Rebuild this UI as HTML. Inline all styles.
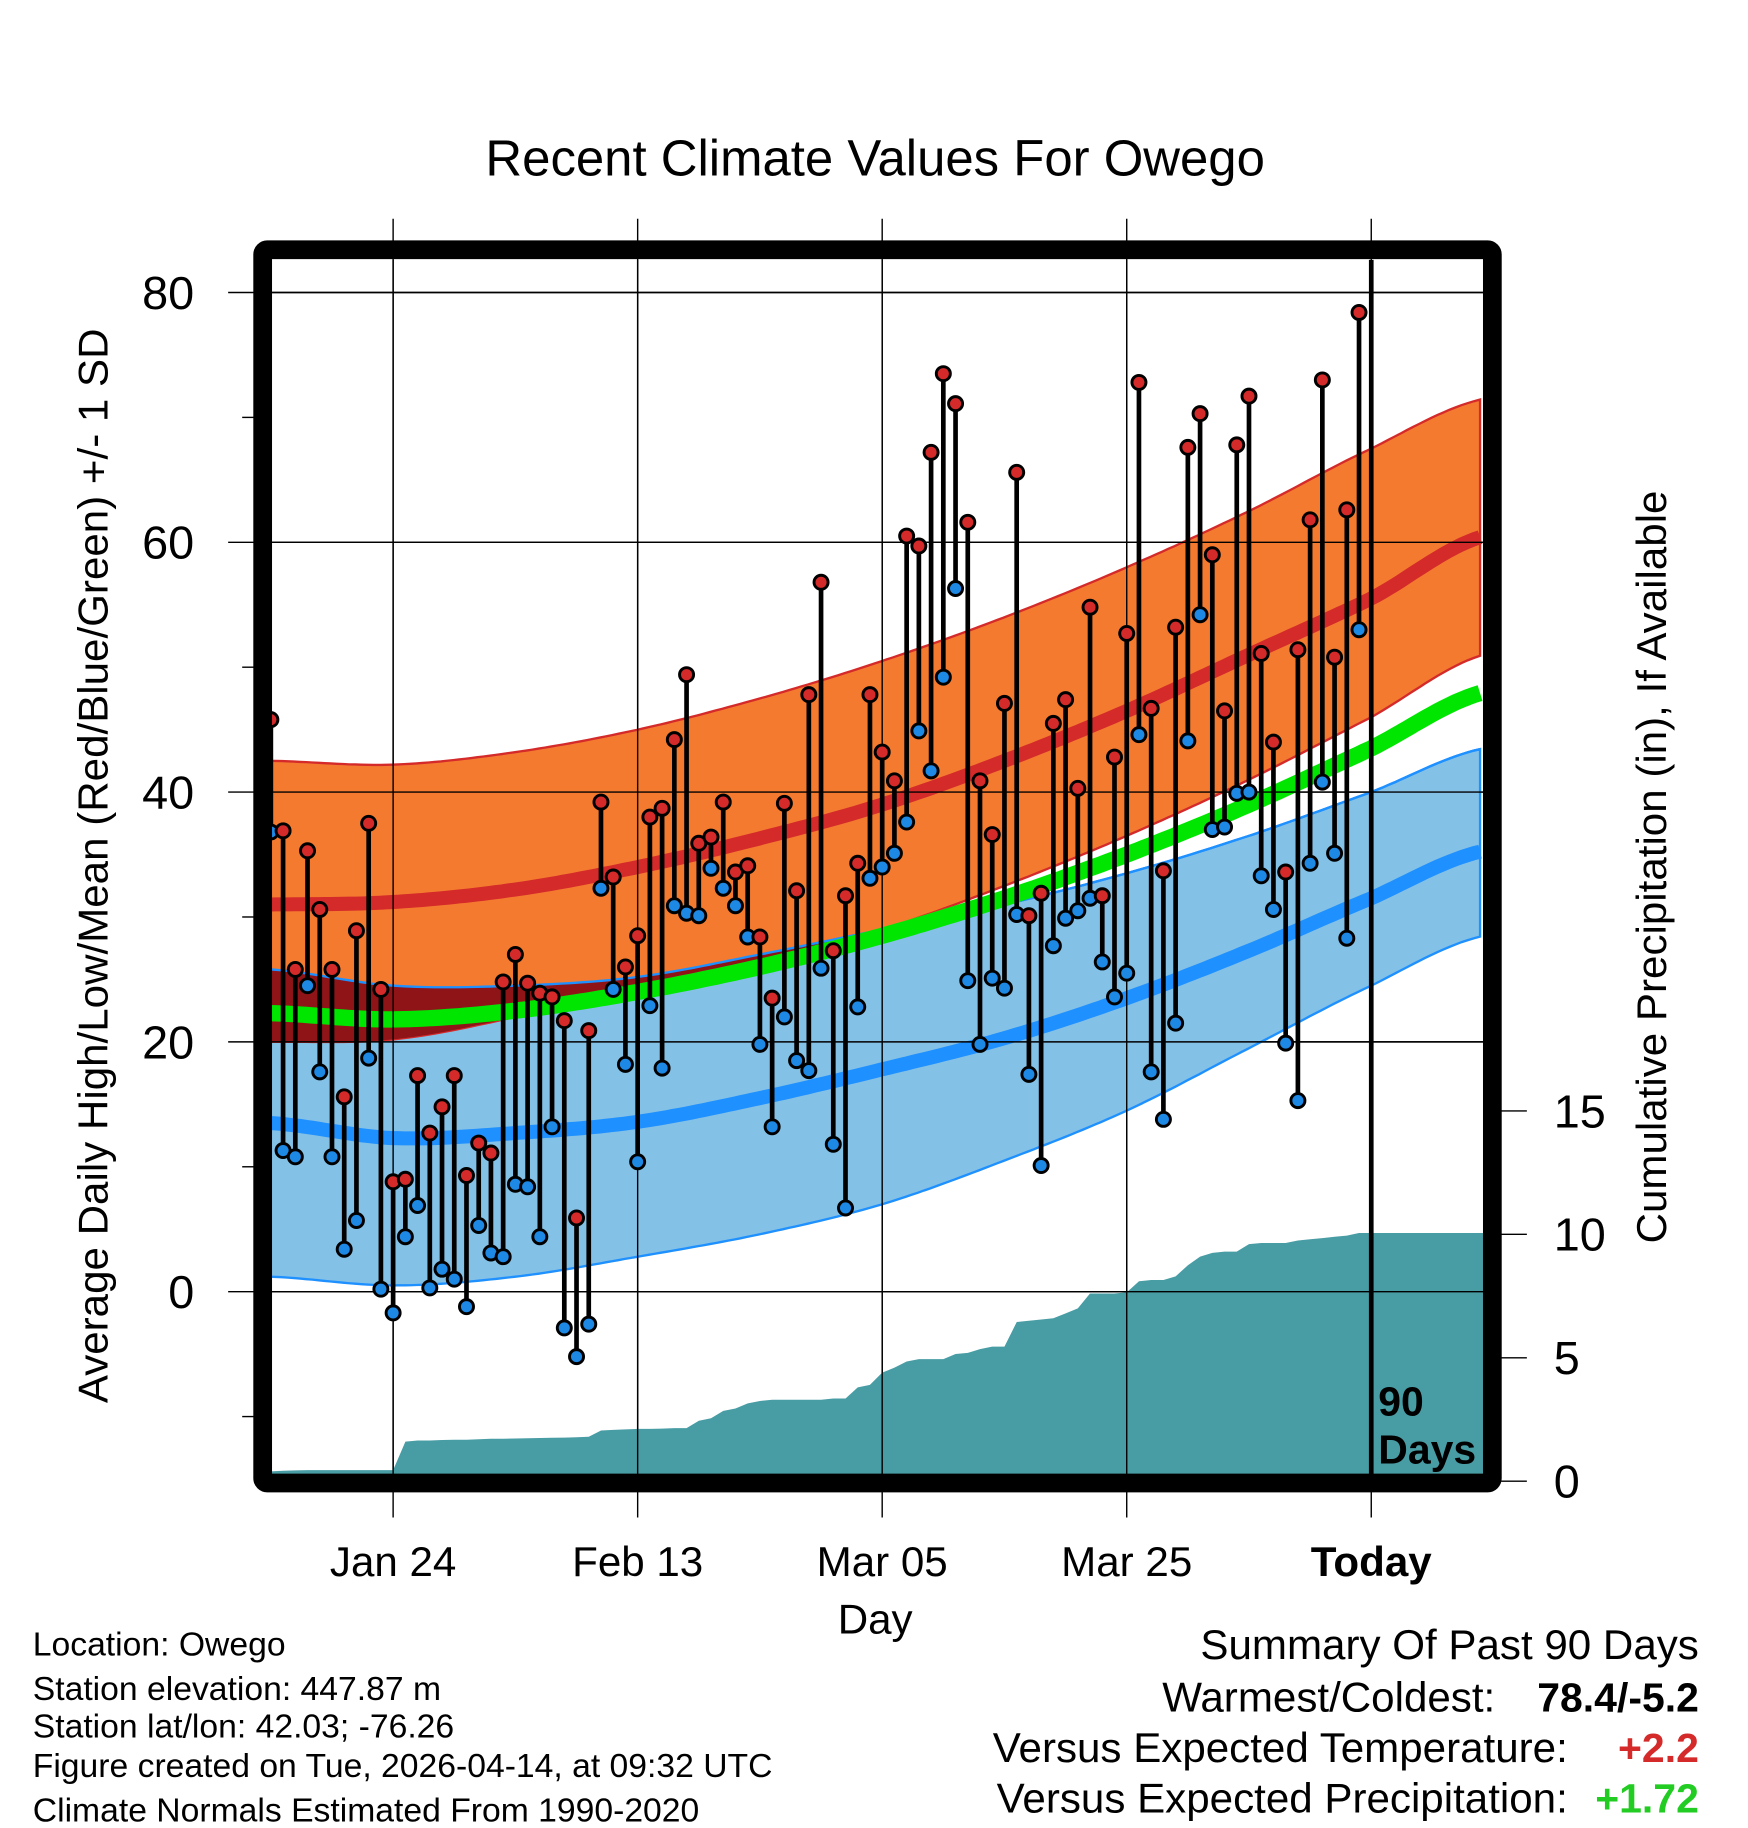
<!DOCTYPE html>
<html><head><meta charset="utf-8"><title>Recent Climate Values For Owego</title>
<style>
html,body{margin:0;padding:0;background:#fff;}
svg{display:block;font-family:"Liberation Sans",Arial,sans-serif;}
</style></head>
<body>
<svg id="chart" width="1748" height="1828" viewBox="0 0 1494 1562.4" preserveAspectRatio="none" xmlns="http://www.w3.org/2000/svg">
<rect x="0" y="0" width="1494" height="1563" fill="#fff"/>
<text x="748" y="150" font-size="43.5" text-anchor="middle">Recent Climate Values For Owego</text>
<g id="plot"></g>
</svg>
<script>
// ---- data ----
const highs = [45.8,36.9,25.8,35.3,30.6,25.8,15.6,28.9,37.5,24.2,8.8,9.0,17.3,12.7,14.8,17.3,9.3,11.9,11.1,24.8,
27.0,24.7,23.9,23.6,21.7,5.9,20.9,39.2,33.2,26.0,28.5,38.0,38.7,44.2,49.4,35.9,36.4,39.2,33.6,34.1,
28.4,23.5,39.1,32.1,47.8,56.8,27.3,31.7,34.3,47.8,43.2,40.9,60.5,59.7,67.2,73.5,71.1,61.6,40.9,36.6,
47.1,65.6,30.1,31.9,45.5,47.4,40.3,54.8,31.7,42.8,52.7,72.8,46.7,33.7,53.2,67.6,70.3,59.0,46.5,67.8,
71.7,51.1,44.0,33.6,51.4,61.8,73.0,50.8,62.6,78.4];
const lows = [36.8,11.3,10.8,24.5,17.6,10.8,3.4,5.7,18.7,0.2,-1.7,4.4,6.9,0.3,1.8,1.0,-1.2,5.3,3.1,2.8,
8.6,8.4,4.4,13.2,-2.9,-5.2,-2.6,32.3,24.2,18.2,10.4,22.9,17.9,30.9,30.3,30.1,33.9,32.3,30.9,28.4,
19.8,13.2,22.0,18.5,17.7,25.9,11.8,6.7,22.8,33.1,34.0,35.1,37.6,44.9,41.7,49.2,56.3,24.9,19.8,25.1,
24.3,30.2,17.4,10.1,27.7,29.9,30.5,31.5,26.4,23.6,25.5,44.6,17.6,13.8,21.5,44.1,54.2,37.0,37.2,39.9,
40.0,33.3,30.6,19.9,15.3,34.3,40.8,35.1,28.3,53.0];
const precip = [0.4,0.42,0.44,0.45,0.45,0.45,0.45,0.45,0.45,0.45,0.45,1.6,1.65,1.65,1.67,1.68,1.68,1.7,1.72,1.72,
1.73,1.74,1.75,1.76,1.77,1.78,1.8,2.05,2.08,2.1,2.12,2.12,2.13,2.15,2.15,2.45,2.55,2.85,2.95,3.15,
3.25,3.3,3.3,3.3,3.3,3.3,3.35,3.35,3.8,3.9,4.4,4.6,4.85,4.95,4.95,4.95,5.15,5.2,5.35,5.45,
5.45,6.45,6.5,6.55,6.6,6.8,7.0,7.6,7.6,7.6,7.65,8.1,8.15,8.15,8.3,8.75,9.1,9.25,9.3,9.3,
9.6,9.65,9.65,9.65,9.75,9.8,9.85,9.9,9.95,10.05];
const normDays = [-90,-80,-70,-60,-50,-40,-30,-20,-10,0,9.2];
const hiMean  = [31,31.2,32.2,34,36.3,39,42.5,46.5,51,55.5,60.5];
const hiUpper = [42.5,42.2,43.2,45,47.5,50.5,54,58,62.5,67.5,71.5];
const hiLower = [20,20.2,22,24.5,26.5,29,32.5,36.5,41,46,51];
const loMean  = [13.5,12.3,12.7,13.6,15.5,17.8,20.3,23.5,27.3,31.5,35.3];
const loUpper = [25.8,24.5,24.5,25.2,27,29,31,33.5,36.5,40,43.5];
const loLower = [1.2,0.5,1.2,2.8,4.6,7,10.5,14.5,19.5,24.5,28.5];
const avgMean = [22.3,21.8,22.5,24,26,28.5,31.5,35,39,43.5,48];
const yTicks = [0,20,40,60,80];
const yMinor = [-10,10,30,50,70];
const pTicks = [0,5,10,15];
const xLabels = ["Jan 24","Feb 13","Mar 05","Mar 25","Today"];
const xLabelDays = [-80,-60,-40,-20,0];

// ---- scales ----
const NS="http://www.w3.org/2000/svg";
const X0=232, X1=1268, Y0=222, Y1=1260;
const xd = d => 1172 + d*10.45;
const xi = i => xd(i-90);
const yt = v => 1104 - v*10.675;
const yp = v => 1266 - v*21.1;
const g = document.getElementById('plot');
function el(tag, attrs, parent){const e=document.createElementNS(NS,tag);for(const k in attrs)e.setAttribute(k,attrs[k]);(parent||g).appendChild(e);return e;}
function interp(arr, d){
  for(let k=0;k<normDays.length-1;k++){
    if(d<=normDays[k+1]||k===normDays.length-2){
      const a=normDays[k],b=normDays[k+1];
      const p0=arr[Math.max(k-1,0)],p1=arr[k],p2=arr[k+1],p3=arr[Math.min(k+2,arr.length-1)];
      const t=(d-a)/(b-a);
      return 0.5*((2*p1)+(-p0+p2)*t+(2*p0-5*p1+4*p2-p3)*t*t+(-p0+3*p1-3*p2+p3)*t*t*t);
    }
  }
}
const samples=[];for(let d=-90.1; d<=9.21; d+=0.5) samples.push(d);
function linePts(arr){return samples.map(d=>xd(d).toFixed(1)+','+yt(interp(arr,d)).toFixed(1));}
function bandPath(up,lo){const a=linePts(up),b=linePts(lo).reverse();return 'M'+a.join('L')+'L'+b.join('L')+'Z';}

const defs=el('defs',{});
const cp=el('clipPath',{id:'clip'},defs);
el('rect',{x:X0,y:Y0,width:X1-X0,height:Y1-Y0},cp);

// ---- gridlines ----
yTicks.forEach(v=>{
  const l=el('line',{x1:195,x2:1283,y1:yt(v),y2:yt(v),stroke:'#000','stroke-width':1.2});
  
  
  const t=el('text',{x:166,y:yt(v)+14,'font-size':40,'text-anchor':'end'});
  t.textContent=v;
  
  
});
yMinor.forEach(v=>{
  const l=el('line',{x1:207,x2:217,y1:yt(v),y2:yt(v),stroke:'#000','stroke-width':1.2});
  
  
});
pTicks.forEach(v=>{
  const l=el('line',{x1:1283,x2:1305,y1:yp(v),y2:yp(v),stroke:'#000','stroke-width':1.2});
  
  
  const t=el('text',{x:1328,y:yp(v)+14,'font-size':40});
  t.textContent=v;
  
  
});
xLabelDays.forEach((d,k)=>{
  const l=el('line',{x1:xd(d),x2:xd(d),y1:187,y2:1297,stroke:'#000','stroke-width':1.2});
  
  
  const t=el('text',{x:xd(d),y:1347,'font-size':36,'text-anchor':'middle','font-weight':d===0?'bold':'normal'});
  t.textContent=xLabels[k];
  
  
});

// ---- plot content ----
const pc=el('g',{'clip-path':'url(#clip)'});


(function(){
  let d='M'+xi(0)+','+yp(0);
  precip.forEach((v,i)=>{d+='L'+xi(i).toFixed(1)+','+yp(v).toFixed(1);});
  d+='L'+X1+','+yp(precip[precip.length-1]).toFixed(1)+'L'+X1+','+yp(0)+'Z';
  const p=el('path',{d:d,fill:'#489ca4'},pc);
  
  
})();
let p=el('path',{d:bandPath(loUpper,loLower),fill:'#84c1e6',stroke:'#1e90ff','stroke-width':2},pc);


p=el('path',{d:bandPath(hiUpper,hiLower),fill:'#f47a30',stroke:'#d42a2a','stroke-width':2},pc);


(function(){
  const up=[],lo=[];
  samples.forEach(d=>{const a=interp(hiLower,d),b=interp(loUpper,d);if(a<b){up.push(xd(d).toFixed(1)+','+yt(b).toFixed(1));lo.push(xd(d).toFixed(1)+','+yt(a).toFixed(1));}});
  if(up.length){const q=el('path',{d:'M'+up.join('L')+'L'+lo.reverse().join('L')+'Z',fill:'#8e1418'},pc);
  
  }
})();
p=el('polyline',{points:linePts(loUpper).join(' '),fill:'none',stroke:'#1e90ff','stroke-width':2},pc);


p=el('polyline',{points:linePts(hiMean).join(' '),fill:'none',stroke:'#d42a2a','stroke-width':12},pc);


p=el('polyline',{points:linePts(loMean).join(' '),fill:'none',stroke:'#1e90ff','stroke-width':12},pc);


p=el('polyline',{points:linePts(avgMean).join(' '),fill:'none',stroke:'#00e600','stroke-width':14},pc);


yTicks.forEach(v=>{const l=el('line',{x1:X0,x2:X1,y1:yt(v),y2:yt(v),stroke:'#000','stroke-width':1.2},pc);
  
  });
xLabelDays.forEach(d=>{const l=el('line',{x1:xd(d),x2:xd(d),y1:Y0,y2:Y1,stroke:'#000','stroke-width':d===0?4:1.2},pc);
  
  });
highs.forEach((h,i)=>{
  const s=el('line',{x1:xi(i),x2:xi(i),y1:yt(h),y2:yt(lows[i]),stroke:'#000','stroke-width':4},pc);
  
  
});
highs.forEach((h,i)=>{
  const c1=el('circle',{cx:xi(i),cy:yt(lows[i]),r:6,fill:'#1e88e5',stroke:'#000','stroke-width':2.5},pc);
  
  
  const c2=el('circle',{cx:xi(i),cy:yt(h),r:6,fill:'#d42a2a',stroke:'#000','stroke-width':2.5},pc);
  
  
});
let t=el('text',{x:1178,y:1210,'font-size':35,'font-weight':'bold'},pc);t.textContent='90';


t=el('text',{x:1178,y:1251,'font-size':35,'font-weight':'bold'},pc);t.textContent='Days';



const fr=el('rect',{x:224.5,y:213.5,width:1051,height:1054,rx:4,fill:'none',stroke:'#000','stroke-width':16});



t=el('text',{x:0,y:0,'font-size':36,'text-anchor':'middle',transform:'translate(92,740) rotate(-90)'});
t.textContent='Average Daily High/Low/Mean (Red/Blue/Green) +/- 1 SD';


t=el('text',{x:0,y:0,'font-size':36,'text-anchor':'middle',transform:'translate(1424,741) rotate(-90)'});
t.textContent='Cumulative Precipitation (in), If Available';


t=el('text',{x:748,y:1396,'font-size':36,'text-anchor':'middle'});t.textContent='Day';



const info=["Location: Owego","Station elevation: 447.87 m","Station lat/lon: 42.03; -76.26","Figure created on Tue, 2026-04-14, at 09:32 UTC","Climate Normals Estimated From 1990-2020"];
const infoY=[1415,1453,1485,1519,1557];
info.forEach((s,k)=>{const e=el('text',{x:28,y:infoY[k],'font-size':28.8});e.textContent=s;
  
  });
t=el('text',{x:1452,y:1418,'font-size':36,'text-anchor':'end'});t.textContent='Summary Of Past 90 Days';


const sl=["Warmest/Coldest:","Versus Expected Temperature:","Versus Expected Precipitation:"];
const sv=["78.4/-5.2","+2.2","+1.72"];
const sc=["#000","#d42a2a","#22cc22"];
const sy=[1463,1506,1549];
const slx=[1278,1340,1340];
sl.forEach((s,k)=>{
  const a=el('text',{x:slx[k],y:sy[k],'font-size':36,'text-anchor':'end'});a.textContent=s;
  
  
  const b=el('text',{x:1452,y:sy[k],'font-size':35,'text-anchor':'end','font-weight':'bold',fill:sc[k]});b.textContent=sv[k];
  
  
});
</script>
</body></html>
